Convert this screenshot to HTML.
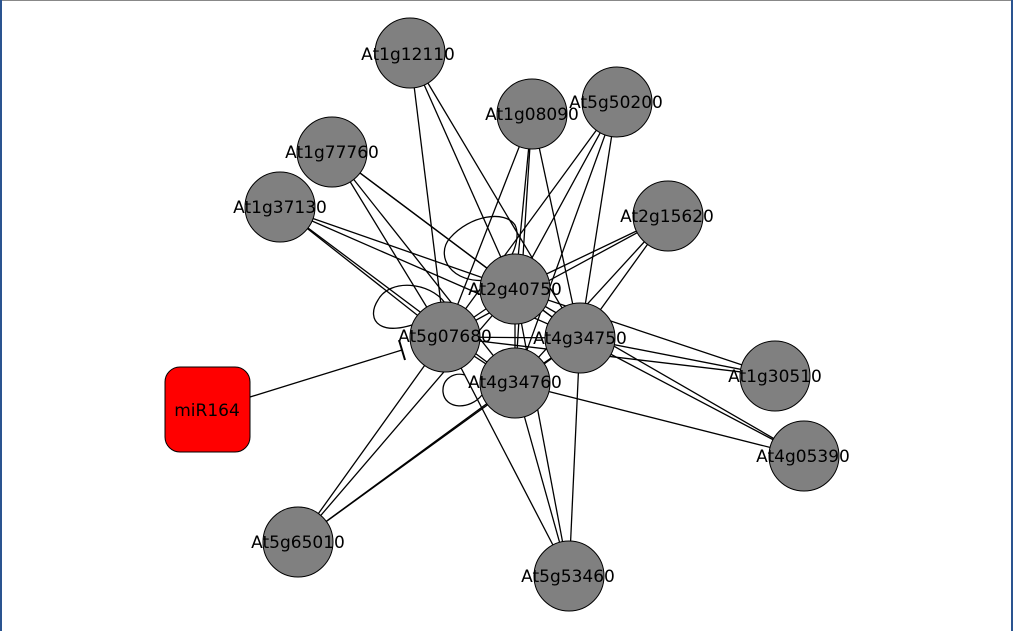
<!DOCTYPE html>
<html><head><meta charset="utf-8"><style>
html,body{margin:0;padding:0;background:#fff;}
svg{display:block}
text{font-family:"DejaVu Sans","Liberation Sans",sans-serif;font-size:17px;fill:#000;text-anchor:middle;dominant-baseline:central}
</style></head><body>
<svg width="1013" height="631" viewBox="0 0 1013 631" xmlns="http://www.w3.org/2000/svg">
<rect x="0" y="0" width="1013" height="631" fill="#fff"/>
<line x1="0" y1="0.5" x2="1013" y2="0.5" stroke="#888" stroke-width="1"/>
<line x1="1" y1="0" x2="1" y2="631" stroke="#2a5490" stroke-width="2"/>
<line x1="1012" y1="0" x2="1012" y2="631" stroke="#2a5490" stroke-width="2"/>
<g stroke="#000" stroke-width="1.3" fill="none">
<line x1="410" y1="53" x2="445" y2="337"/><line x1="410" y1="53" x2="515" y2="289"/><line x1="410" y1="53" x2="580" y2="338"/>
<line x1="532" y1="114" x2="445" y2="337"/><line x1="532" y1="114" x2="515" y2="289"/><line x1="532" y1="114" x2="580" y2="338"/><line x1="532" y1="114" x2="515" y2="383"/>
<line x1="617" y1="102" x2="445" y2="337"/><line x1="617" y1="102" x2="515" y2="289"/><line x1="617" y1="102" x2="580" y2="338"/><line x1="617" y1="102" x2="515" y2="383"/>
<line x1="332" y1="152" x2="445" y2="337"/><line x1="332" y1="152" x2="515" y2="289"/><line x1="332" y1="152" x2="580" y2="338"/><line x1="332" y1="152" x2="515" y2="383"/>
<line x1="280" y1="207" x2="445" y2="337"/><line x1="280" y1="207" x2="515" y2="289"/><line x1="280" y1="207" x2="580" y2="338"/><line x1="280" y1="207" x2="515" y2="383"/>
<line x1="668" y1="216" x2="445" y2="337"/><line x1="668" y1="216" x2="515" y2="289"/><line x1="668" y1="216" x2="580" y2="338"/><line x1="668" y1="216" x2="515" y2="383"/>
<line x1="775" y1="376" x2="445" y2="337"/><line x1="775" y1="376" x2="515" y2="289"/><line x1="775" y1="376" x2="580" y2="338"/>
<line x1="804" y1="456" x2="515" y2="289"/><line x1="804" y1="456" x2="580" y2="338"/><line x1="804" y1="456" x2="515" y2="383"/>
<line x1="298" y1="542" x2="445" y2="337"/><line x1="298" y1="542" x2="515" y2="289"/><line x1="298" y1="542" x2="580" y2="338"/><line x1="298" y1="542" x2="515" y2="383"/>
<line x1="569" y1="576" x2="445" y2="337"/><line x1="569" y1="576" x2="515" y2="289"/><line x1="569" y1="576" x2="580" y2="338"/><line x1="569" y1="576" x2="515" y2="383"/>
<line x1="445" y1="337" x2="515" y2="289"/><line x1="445" y1="337" x2="580" y2="338"/><line x1="445" y1="337" x2="515" y2="383"/>
<line x1="515" y1="289" x2="580" y2="338"/><line x1="515" y1="289" x2="515" y2="383"/><line x1="580" y1="338" x2="515" y2="383"/>
<path d="M490,280 C450,285 435,255 450,238 C470,215 505,210 515,225 C520,235 515,250 510,258"/>
<path d="M425,320 C380,340 365,320 378,300 C390,278 430,282 445,303"/>
<path d="M482,395 C470,410 445,410 443,392 C442,378 455,372 465,375"/>
<line x1="250" y1="397" x2="402" y2="350"/>
<line x1="399" y1="340" x2="405" y2="360" stroke-width="2"/>
</g>
<g fill="#808080" stroke="#000" stroke-width="1">
<circle cx="410" cy="53" r="35"/>
<circle cx="532" cy="114" r="35"/>
<circle cx="617" cy="102" r="35"/>
<circle cx="332" cy="152" r="35"/>
<circle cx="280" cy="207" r="35"/>
<circle cx="668" cy="216" r="35"/>
<circle cx="775" cy="376" r="35"/>
<circle cx="804" cy="456" r="35"/>
<circle cx="298" cy="542" r="35"/>
<circle cx="569" cy="576" r="35"/>
<circle cx="515" cy="289" r="35"/>
<circle cx="445" cy="337" r="35"/>
<circle cx="580" cy="338" r="35"/>
<circle cx="515" cy="383" r="35"/>
</g>
<rect x="165" y="367" width="85" height="85" rx="15" fill="#ff0000" stroke="#000" stroke-width="1"/>
<text x="408" y="55">At1g12110</text>
<text x="532" y="115">At1g08090</text>
<text x="616" y="103">At5g50200</text>
<text x="332" y="153">At1g77760</text>
<text x="280" y="208">At1g37130</text>
<text x="667" y="217">At2g15620</text>
<text x="775" y="377">At1g30510</text>
<text x="803" y="457">At4g05390</text>
<text x="298" y="543">At5g65010</text>
<text x="568" y="577">At5g53460</text>
<text x="515" y="290">At2g40750</text>
<text x="445" y="337">At5g07680</text>
<text x="580" y="339">At4g34750</text>
<text x="515" y="383">At4g34760</text>
<text x="207" y="411">miR164</text>
</svg>
</body></html>
